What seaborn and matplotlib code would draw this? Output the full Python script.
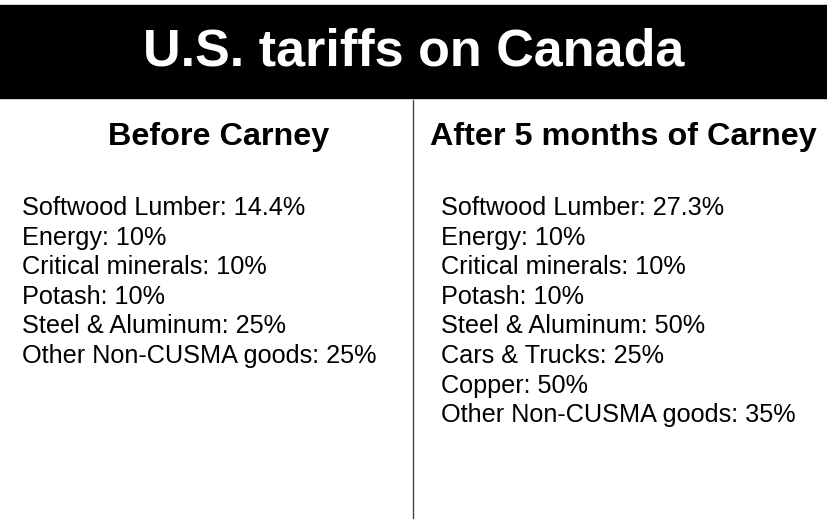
import matplotlib
matplotlib.use("Agg")
import matplotlib.pyplot as plt
import seaborn as sns

title = "U.S. tariffs on Canada"
before_header = "Before Carney"
after_header = "After 5 months of Carney"
before_items = ["Softwood Lumber", "Energy", "Critical minerals", "Potash",
                "Steel & Aluminum", "Other Non-CUSMA goods"]
before_rates = ["14.4%", "10%", "10%", "10%", "25%", "25%"]
after_items = ["Softwood Lumber", "Energy", "Critical minerals", "Potash",
               "Steel & Aluminum", "Cars & Trucks", "Copper", "Other Non-CUSMA goods"]
after_rates = ["27.3%", "10%", "10%", "10%", "50%", "25%", "50%", "35%"]

sns.set_theme(style="white", font="Liberation Sans")
fig = plt.figure(figsize=(8.28, 5.19), dpi=100)
ax = fig.add_axes([0, 0, 1, 1])
ax.set_xlim(0, 828)
ax.set_ylim(519, 0)
ax.axis("off")

ax.add_patch(plt.Rectangle((0, 5), 828, 93, color="black"))
ax.text(414, 52, title, color="white", fontsize=37.5, fontweight="bold",
        ha="center", va="center")
ax.plot([413, 413], [100, 519], color="#444444", lw=1)

ax.text(219, 137, before_header, fontsize=23.3, fontweight="bold", ha="center",
        va="center", color="black")
ax.text(623, 137, after_header, fontsize=23.3, fontweight="bold", ha="center",
        va="center", color="black")

for i, (c, r) in enumerate(zip(before_items, before_rates)):
    ax.text(22, 208 + i * 29.6, f"{c}: {r}", fontsize=18.2, ha="left",
            va="center", color="black")
for i, (c, r) in enumerate(zip(after_items, after_rates)):
    ax.text(441, 208 + i * 29.6, f"{c}: {r}", fontsize=18.2, ha="left",
            va="center", color="black")

fig.savefig("out.png", dpi=100)
